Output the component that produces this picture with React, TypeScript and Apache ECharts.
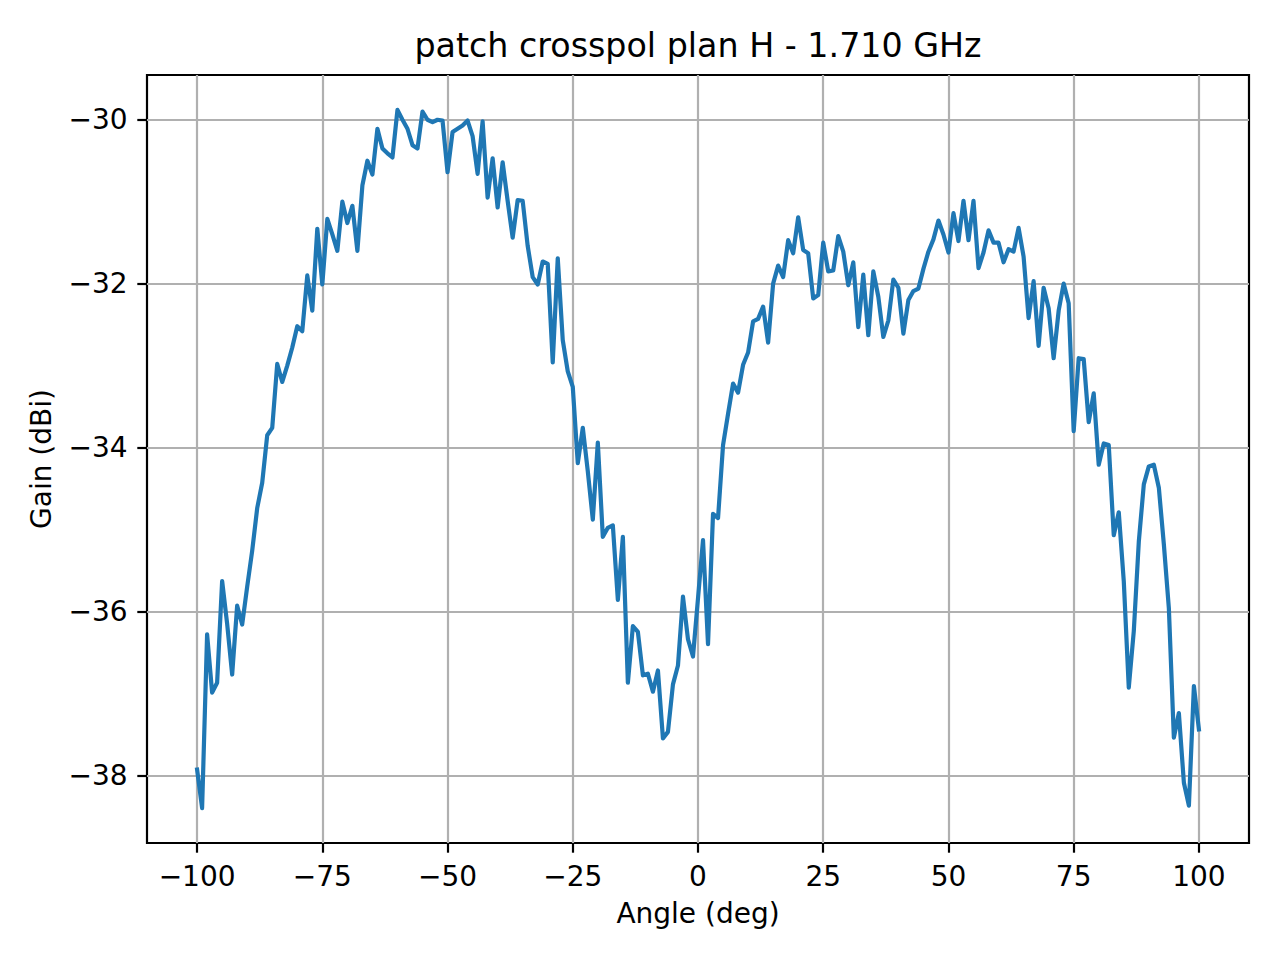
import React, { useEffect, useRef } from "react";
import * as echarts from "echarts";

const angles = [
  -100, -99, -98, -97, -96, -95, -94, -93, -92, -91, -90, -89, -88, -87, -86, -85, -84, -83, -82, -81,
  -80, -79, -78, -77, -76, -75, -74, -73, -72, -71, -70, -69, -68, -67, -66, -65, -64, -63, -62, -61,
  -60, -59, -58, -57, -56, -55, -54, -53, -52, -51, -50, -49, -48, -47, -46, -45, -44, -43, -42, -41,
  -40, -39, -38, -37, -36, -35, -34, -33, -32, -31, -30, -29, -28, -27, -26, -25, -24, -23, -22, -21,
  -20, -19, -18, -17, -16, -15, -14, -13, -12, -11, -10, -9, -8, -7, -6, -5, -4, -3, -2, -1,
  0, 1, 2, 3, 4, 5, 6, 7, 8, 9, 10, 11, 12, 13, 14, 15, 16, 17, 18, 19,
  20, 21, 22, 23, 24, 25, 26, 27, 28, 29, 30, 31, 32, 33, 34, 35, 36, 37, 38, 39,
  40, 41, 42, 43, 44, 45, 46, 47, 48, 49, 50, 51, 52, 53, 54, 55, 56, 57, 58, 59,
  60, 61, 62, 63, 64, 65, 66, 67, 68, 69, 70, 71, 72, 73, 74, 75, 76, 77, 78, 79,
  80, 81, 82, 83, 84, 85, 86, 87, 88, 89, 90, 91, 92, 93, 94, 95, 96, 97, 98, 99,
  100,
];

const gain = [
  -37.93, -38.40, -36.28, -36.99, -36.87, -35.63, -36.15, -36.77, -35.93, -36.16,
  -35.70, -35.26, -34.74, -34.43, -33.85, -33.76, -32.98, -33.20, -33.00, -32.78,
  -32.52, -32.58, -31.90, -32.33, -31.33, -32.01, -31.21, -31.40, -31.60, -31.00,
  -31.26, -31.05, -31.60, -30.80, -30.50, -30.67, -30.11, -30.35, -30.41, -30.46,
  -29.88, -30.00, -30.11, -30.31, -30.35, -29.90, -30.00, -30.03, -30.00, -30.01,
  -30.64, -30.15, -30.11, -30.07, -30.01, -30.20, -30.66, -30.02, -30.95, -30.47,
  -31.07, -30.52, -30.99, -31.44, -30.98, -30.99, -31.54, -31.92, -32.01, -31.73,
  -31.76, -32.96, -31.69, -32.69, -33.07, -33.26, -34.19, -33.76, -34.29, -34.88,
  -33.94, -35.09, -34.98, -34.95, -35.86, -35.09, -36.87, -36.18, -36.25, -36.78,
  -36.76, -36.98, -36.72, -37.55, -37.47, -36.89, -36.66, -35.82, -36.34, -36.55,
  -35.84, -35.13, -36.40, -34.81, -34.86, -33.97, -33.59, -33.22, -33.33, -32.99,
  -32.84, -32.46, -32.43, -32.28, -32.72, -32.00, -31.78, -31.92, -31.47, -31.63,
  -31.19, -31.59, -31.63, -32.18, -32.14, -31.50, -31.85, -31.84, -31.42, -31.61,
  -32.02, -31.74, -32.53, -31.89, -32.63, -31.85, -32.16, -32.65, -32.45, -31.95,
  -32.05, -32.61, -32.20, -32.09, -32.06, -31.82, -31.61, -31.46, -31.23, -31.40,
  -31.62, -31.14, -31.48, -30.99, -31.47, -30.99, -31.81, -31.62, -31.35, -31.50,
  -31.50, -31.74, -31.58, -31.61, -31.32, -31.67, -32.42, -31.97, -32.76, -32.05,
  -32.30, -32.91, -32.33, -32.00, -32.24, -33.80, -32.91, -32.92, -33.69, -33.34,
  -34.21, -33.95, -33.97, -35.07, -34.79, -35.63, -36.93, -36.24, -35.15, -34.45,
  -34.23, -34.21, -34.49, -35.18, -35.96, -37.54, -37.24, -38.09, -38.37, -36.91,
  -37.44,
];

const xTicks = [-100, -75, -50, -25, 0, 25, 50, 75, 100];
const yTicks = [-38, -36, -34, -32, -30];

const titleText = "patch crosspol plan H - 1.710 GHz";
const xName = "Angle (deg)";
const yName = "Gain (dBi)";

export default function App() {
  const ref = useRef<HTMLDivElement>(null);

  useEffect(() => {
    if (!ref.current) return;
    const chart = echarts.init(ref.current, null, { renderer: "svg" });
    const font = "DejaVu Sans";
    const fmt = (v: number) => String(v).replace("-", "\u2212");
    const lineData = angles.map((a, i) => [a, gain[i]]);

    chart.setOption({
      animation: false,
      backgroundColor: "#ffffff",
      title: {
        text: titleText,
        left: 698,
        top: 29,
        textAlign: "center",
        padding: 0,
        textStyle: {
          fontFamily: font,
          fontSize: 33.3,
          fontWeight: "normal",
          color: "#000000",
        },
      },
      grid: {
        left: 147,
        right: 31,
        top: 75,
        bottom: 117,
        show: true,
        borderColor: "#000000",
        borderWidth: 2.2,
        backgroundColor: "transparent",
        containLabel: false,
        outerBoundsMode: "none",
      },
      xAxis: {
        type: "value",
        min: -110,
        max: 110,
        name: xName,
        nameLocation: "middle",
        nameGap: 56,
        nameTextStyle: { fontFamily: font, fontSize: 28, color: "#000000" },
        axisLine: { show: false, onZero: false },
        axisTick: {
          show: true,
          inside: false,
          length: 9.7,
          customValues: xTicks,
          lineStyle: { color: "#000000", width: 2.2 },
        },
        axisLabel: {
          customValues: xTicks,
          formatter: fmt,
          margin: 19.4,
          fontFamily: font,
          fontSize: 28,
          color: "#000000",
        },
        splitLine: { show: true, lineStyle: { color: "#b0b0b0", width: 2.2 } },
      },
      yAxis: {
        type: "value",
        min: -38.826,
        max: -29.454,
        name: yName,
        nameLocation: "middle",
        nameGap: 92,
        nameTextStyle: { fontFamily: font, fontSize: 28, color: "#000000" },
        axisLine: { show: false, onZero: false },
        axisTick: {
          show: true,
          inside: false,
          length: 9.7,
          customValues: yTicks,
          lineStyle: { color: "#000000", width: 2.2 },
        },
        axisLabel: {
          customValues: yTicks,
          formatter: fmt,
          margin: 19.4,
          fontFamily: font,
          fontSize: 28,
          color: "#000000",
        },
        splitLine: { show: true, lineStyle: { color: "#b0b0b0", width: 2.2 } },
      },
      series: [
        {
          type: "line",
          data: lineData,
          showSymbol: false,
          symbol: "none",
          lineStyle: { color: "#1f77b4", width: 4.2, join: "round", cap: "square" },
          itemStyle: { color: "#1f77b4" },
          z: 3,
        },
      ],
    });

    return () => chart.dispose();
  }, []);

  return (
    <div
      ref={ref}
      style={{ position: "fixed", left: 0, top: 0, width: 1280, height: 960, background: "#fff" }}
    />
  );
}
